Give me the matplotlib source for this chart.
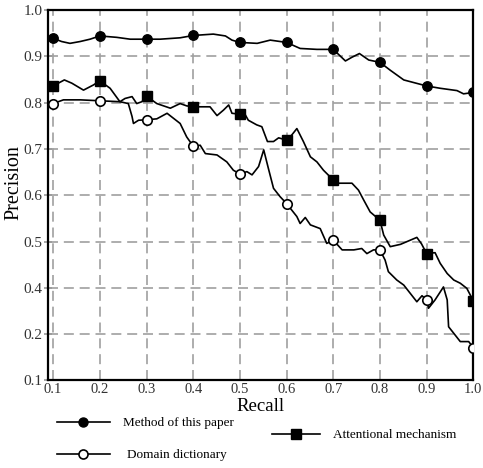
import numpy as np
import matplotlib
matplotlib.use("Agg")
import matplotlib.pyplot as plt
from matplotlib.lines import Line2D
from matplotlib.legend_handler import HandlerLine2D

plt.rcParams['font.family'] = ['Liberation Serif', 'DejaVu Serif']

# Method of this paper (filled circles)
paper_x = [0.1, 0.118, 0.136, 0.158, 0.179, 0.2, 0.236, 0.265, 0.3, 0.329, 0.372, 0.4,
           0.443, 0.469, 0.483, 0.5, 0.537, 0.565, 0.6, 0.629, 0.665, 0.7, 0.726, 0.740,
           0.756, 0.776, 0.8, 0.822, 0.851, 0.9, 0.929, 0.965, 0.979, 1.0]
paper_y = [0.939, 0.932, 0.928, 0.932, 0.937, 0.944, 0.941, 0.937, 0.937, 0.937, 0.940, 0.945,
           0.948, 0.944, 0.935, 0.930, 0.928, 0.935, 0.930, 0.917, 0.915, 0.915, 0.890, 0.898,
           0.906, 0.892, 0.887, 0.870, 0.849, 0.836, 0.831, 0.826, 0.819, 0.822]

# Attentional mechanism (filled squares)
att_x = [0.1, 0.124, 0.140, 0.165, 0.186, 0.2, 0.222, 0.243, 0.254, 0.269, 0.279, 0.290, 0.3,
         0.322, 0.351, 0.372, 0.386, 0.4, 0.436, 0.451, 0.465, 0.476, 0.483, 0.5,
         0.508, 0.518, 0.536, 0.547, 0.559, 0.572, 0.583, 0.6, 0.611, 0.622, 0.636, 0.651,
         0.665, 0.679, 0.7, 0.708, 0.740, 0.754, 0.765, 0.779, 0.8, 0.808, 0.822, 0.844,
         0.865, 0.879, 0.889, 0.9, 0.918, 0.929, 0.944, 0.958, 0.972, 0.986, 1.0]
att_y = [0.836, 0.849, 0.842, 0.827, 0.838, 0.847, 0.831, 0.802, 0.809, 0.813, 0.798, 0.802, 0.814,
         0.798, 0.788, 0.798, 0.793, 0.791, 0.791, 0.772, 0.784, 0.795, 0.777, 0.775,
         0.780, 0.762, 0.752, 0.748, 0.716, 0.716, 0.724, 0.719, 0.730, 0.744, 0.716, 0.683,
         0.672, 0.654, 0.633, 0.626, 0.626, 0.611, 0.590, 0.564, 0.546, 0.514, 0.489, 0.494,
         0.503, 0.509, 0.495, 0.474, 0.476, 0.453, 0.431, 0.417, 0.410, 0.399, 0.372]

# Domain dictionary (open circles)
dict_x = [0.1, 0.122, 0.158, 0.2, 0.243, 0.261, 0.269, 0.272, 0.283, 0.3, 0.322, 0.344,
          0.358, 0.372, 0.386, 0.4, 0.415, 0.426, 0.451, 0.472, 0.486, 0.5, 0.515, 0.526,
          0.540, 0.551, 0.561, 0.572, 0.586, 0.6, 0.622, 0.629, 0.640, 0.651, 0.672, 0.686,
          0.7, 0.719, 0.744, 0.761, 0.772, 0.786, 0.8, 0.811, 0.818, 0.836, 0.851, 0.865,
          0.879, 0.890, 0.9, 0.904, 0.918, 0.936, 0.944, 0.947, 0.958, 0.972, 0.990, 1.0]
dict_y = [0.798, 0.806, 0.806, 0.804, 0.802, 0.798, 0.770, 0.755, 0.762, 0.763, 0.765, 0.777,
          0.766, 0.755, 0.726, 0.706, 0.708, 0.690, 0.687, 0.672, 0.654, 0.646, 0.651, 0.644,
          0.662, 0.698, 0.658, 0.615, 0.597, 0.582, 0.554, 0.539, 0.552, 0.536, 0.528, 0.496,
          0.503, 0.482, 0.482, 0.485, 0.474, 0.482, 0.482, 0.460, 0.435, 0.417, 0.406, 0.388,
          0.370, 0.383, 0.374, 0.356, 0.374, 0.402, 0.374, 0.316, 0.302, 0.284, 0.284, 0.271]

x_ticks = [0.1, 0.2, 0.3, 0.4, 0.5, 0.6, 0.7, 0.8, 0.9, 1.0]
x_labels = ['0.1', '0.2', '0.3', '0.4', '0.5', '0.6', '0.7', '0.8', '0.9', '1.0']
y_ticks = [0.2, 0.3, 0.4, 0.5, 0.6, 0.7, 0.8, 0.9, 1.0]
y_labels = ['0.1', '0.2', '0.4', '0.5', '0.6', '0.7', '0.8', '0.9', '1.0']


def marks(xs):
    xs = np.asarray(xs)
    return [i for i, v in enumerate(xs) if np.isclose(v * 10, round(v * 10))]


class MarkerRight(HandlerLine2D):
    def __init__(self, frac, **kw):
        super().__init__(**kw)
        self.frac = frac

    def get_xdata(self, legend, xdescent, ydescent, width, height, fontsize):
        xdata = np.linspace(-xdescent, -xdescent + width, 2)
        return xdata, np.array([-xdescent + self.frac * width])


fig = plt.figure(figsize=(4.83, 4.68), dpi=100)
ax = fig.add_axes([0.0994, 0.187, 0.8806, 0.7916])

lw = 1.2
ax.plot(paper_x, paper_y, color='black', lw=lw, marker='o', ms=6.8,
        markevery=marks(paper_x), zorder=3)
ax.plot(att_x, att_y, color='black', lw=lw, marker='s', ms=6.8,
        markevery=marks(att_x), zorder=3)
ax.plot(dict_x, dict_y, color='black', lw=lw, marker='o', ms=6.8, mfc='white',
        mec='black', mew=1.2, markevery=marks(dict_x), zorder=3)

ax.set_xlim(0.089, 1.0)
ax.set_ylim(0.2, 1.0)
ax.set_xticks(x_ticks)
ax.set_xticklabels(x_labels, fontsize=10.5, color='#333333')
ax.set_yticks(y_ticks)
ax.set_yticklabels(y_labels, fontsize=11, color='#333333')
ax.tick_params(axis='x', length=0, pad=2)
ax.tick_params(axis='y', length=6, direction='inout', color='#999999', width=1.2, pad=1)
ax.grid(True, color='#a0a0a0', lw=1.2, linestyle=(0, (6, 3.5)))
for s in ax.spines.values():
    s.set_linewidth(1.6)
    s.set_color('black')

ax.set_xlabel('Recall', fontsize=13.5, labelpad=1)
ax.set_ylabel('Precision', fontsize=14.5)
ax.yaxis.set_label_coords(-0.058, 0.535)

h1 = Line2D([], [], color='black', lw=lw, marker='o', ms=6.5)
h2 = Line2D([], [], color='black', lw=lw, marker='s', ms=6.5)
h3 = Line2D([], [], color='black', lw=lw, marker='o', ms=6.5, mfc='white', mew=1.2)

common = dict(frameon=False, loc='center left', borderaxespad=0, borderpad=0,
              fontsize=9.5, handletextpad=1.0)
fig.legend([h1], ['Method of this paper'], bbox_to_anchor=(57 / 483, 1 - 423 / 468),
           handlelength=4.0, handler_map={h1: MarkerRight(0.76)}, **common)
fig.legend([h2], ['Attentional mechanism'], bbox_to_anchor=(272 / 483, 1 - 435 / 468),
           handlelength=3.6, handler_map={h2: MarkerRight(0.7)}, **common)
fig.legend([h3], ['Domain dictionary'], bbox_to_anchor=(57 / 483, 1 - 455 / 468),
           handlelength=4.0, handler_map={h3: MarkerRight(0.76)},
           frameon=False, loc='center left', borderaxespad=0, borderpad=0,
           fontsize=9.5, handletextpad=1.3)

fig.savefig('out.png', dpi=100)
